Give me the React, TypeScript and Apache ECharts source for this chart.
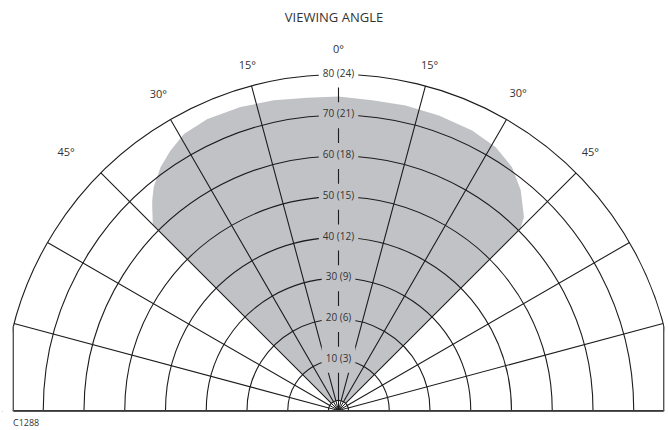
import React, { useEffect, useRef } from 'react';
import * as echarts from 'echarts';

// Radius (distance) ticks and their labels
const radiusTicks = [0, 10, 20, 30, 40, 50, 60, 70, 80];
const radiusTickLabels = ['', '10 (3)', '20 (6)', '30 (9)', '40 (12)', '50 (15)', '60 (18)', '70 (21)', '80 (24)'];

// Angle ticks that carry a label (0 at top, clockwise; 315..345 = left side)
const angleTickValues = [0, 15, 30, 45, 315, 330, 345];
const angleTickLabels = ['0°', '15°', '30°', '45°', '45°', '30°', '15°'];

// Viewing envelope (angle in degrees, negative = left of centre; distance)
const envelopeAngles = [-45, -45, -42.5, -41.6, -39.6, -36.2, -32.9, -29.2, -24.2, -17.9, -11.8, -5.7, 0, 6.2, 12.4, 18.8, 25.5, 30.8, 35.5, 39.6, 43.8, 45, 45];
const envelopeDistances = [0, 62, 65.2, 66.4, 68.7, 71.5, 73.5, 75.3, 76, 75.8, 75.3, 74.7, 74.6, 74.1, 74.2, 74.0, 73.7, 72.8, 70.9, 67.7, 63.3, 60.7, 0];

const FONT = 'Open Sans';
const GRAY = '#c1c2c6';
const LINE = '#1c1c1c';
const EDGE = '#555555';

export default function App() {
  const ref = useRef<HTMLDivElement>(null);

  useEffect(() => {
    const chart = echarts.init(ref.current!, null, { renderer: 'svg' });
    const cx = 338.5;
    const cy = 410.5;
    const left = 13.3;
    const right = 663.7;
    const base = 411.3;

    const angleLabel = (v: number) => {
      const i = angleTickValues.indexOf(v);
      return i < 0 ? '' : angleTickLabels[i];
    };

    // label-only polar layers: [tick values shown, label margin, start angle]
    const labelLayers: [number[], number, number][] = [
      [[0], 21, 90],
      [[15, 345], 16, 90],
      [[30], 20, 91.3],
      [[330], 20, 88.8],
      [[45], 15.5, 91.2],
      [[315], 30, 91.1],
    ];

    const polars: any[] = [
      { center: [cx, cy], radius: [10, 336] },
      { center: [cx, cy], radius: [0, 10] },
    ];
    const angleAxes: any[] = [
      {
        polarIndex: 0,
        type: 'value',
        min: 0,
        max: 360,
        interval: 15,
        startAngle: 90,
        clockwise: true,
        z: 3,
        axisLine: { show: false },
        axisTick: { show: false },
        axisLabel: { show: false },
        splitLine: { show: true, lineStyle: { color: LINE, width: 1.1 } },
      },
      {
        polarIndex: 1,
        type: 'value',
        min: 0,
        max: 360,
        interval: 15,
        startAngle: 90,
        clockwise: true,
        z: 3,
        axisLine: { show: false },
        axisTick: { show: false },
        axisLabel: { show: false },
        splitLine: { show: true, lineStyle: { color: LINE, width: 1 } },
      },
    ];
    const radiusAxes: any[] = [
      {
        polarIndex: 0,
        type: 'value',
        min: 0,
        max: 80,
        interval: 10,
        z: 4,
        axisLine: { show: false },
        axisTick: { show: false },
        splitLine: { show: true, lineStyle: { color: LINE, width: 1.1 } },
        axisLabel: {
          margin: 0,
          align: 'center',
          verticalAlign: 'middle',
          fontFamily: FONT,
          fontSize: 10,
          color: '#333',
          formatter: (v: number) => {
            const i = radiusTicks.indexOf(v);
            if (i <= 0) return '';
            return i === radiusTicks.length - 1 ? `{w|${radiusTickLabels[i]}}` : `{g|${radiusTickLabels[i]}}`;
          },
          rich: {
            w: { fontFamily: FONT, fontSize: 10, color: '#333', backgroundColor: '#ffffff', padding: [6, 4, 10, 4] },
            g: { fontFamily: FONT, fontSize: 10, color: '#333', backgroundColor: GRAY, padding: [6, 4, 10, 4] },
          },
        },
      },
      {
        polarIndex: 1,
        type: 'value',
        min: 0,
        max: 10,
        axisLine: { show: false },
        axisTick: { show: false },
        axisLabel: { show: false },
        splitLine: { show: false },
      },
    ];

    labelLayers.forEach(([vals, margin, start], k) => {
      const idx = k + 2;
      polars.push({ center: [cx, cy], radius: [10, 336] });
      angleAxes.push({
        polarIndex: idx,
        type: 'value',
        min: 0,
        max: 360,
        interval: 15,
        startAngle: start,
        clockwise: true,
        z: 5,
        axisLine: { show: false },
        axisTick: { show: false },
        splitLine: { show: false },
        axisLabel: {
          margin,
          align: 'center',
          verticalAlign: 'middle',
          fontFamily: FONT,
          fontSize: 11,
          color: '#333',
          formatter: (v: number) => (vals.indexOf(v) >= 0 ? angleLabel(v) : ''),
        },
      });
      radiusAxes.push({
        polarIndex: idx,
        type: 'value',
        min: 0,
        max: 80,
        axisLine: { show: false },
        axisTick: { show: false },
        axisLabel: { show: false },
        splitLine: { show: false },
      });
    });

    chart.setOption({
      animation: false,
      backgroundColor: '#ffffff',
      title: {
        text: 'VIEWING ANGLE',
        left: 'center',
        top: 5,
        textStyle: { fontFamily: FONT, fontSize: 13, fontWeight: 'normal', color: '#333' },
      },
      polar: polars,
      angleAxis: angleAxes,
      radiusAxis: radiusAxes,
      series: [
        {
          type: 'line',
          coordinateSystem: 'polar',
          polarIndex: 0,
          z: 1,
          clip: false,
          symbol: 'none',
          smooth: false,
          silent: true,
          lineStyle: { width: 0, color: GRAY },
          areaStyle: { color: GRAY, opacity: 1 },
          data: envelopeAngles.map((a, i) => [envelopeDistances[i], a]),
        },
      ],
      graphic: [
        { type: 'rect', z: 50, shape: { x: 0, y: base, width: 668, height: 30 }, style: { fill: '#fff' } },
        { type: 'rect', z: 50, shape: { x: 0, y: 0, width: left - 0.5, height: base }, style: { fill: '#fff' } },
        { type: 'rect', z: 50, shape: { x: right + 0.5, y: 0, width: 20, height: base }, style: { fill: '#fff' } },
        { type: 'line', z: 60, shape: { x1: left, y1: base, x2: right, y2: base }, style: { stroke: EDGE, lineWidth: 1.6 } },
        { type: 'line', z: 60, shape: { x1: left, y1: 326, x2: left, y2: base }, style: { stroke: EDGE, lineWidth: 1.4 } },
        { type: 'line', z: 60, shape: { x1: right, y1: 326, x2: right, y2: base }, style: { stroke: EDGE, lineWidth: 1.4 } },
        {
          type: 'text',
          z: 60,
          x: 13,
          y: 417.5,
          style: { text: 'C1288', fontFamily: FONT, fontSize: 9, fill: '#333' },
        },
      ],
    });
    return () => chart.dispose();
  }, []);

  return (
    <div
      ref={ref}
      style={{ position: 'fixed', left: 0, top: 0, width: 668, height: 430, background: '#fff' }}
    />
  );
}
